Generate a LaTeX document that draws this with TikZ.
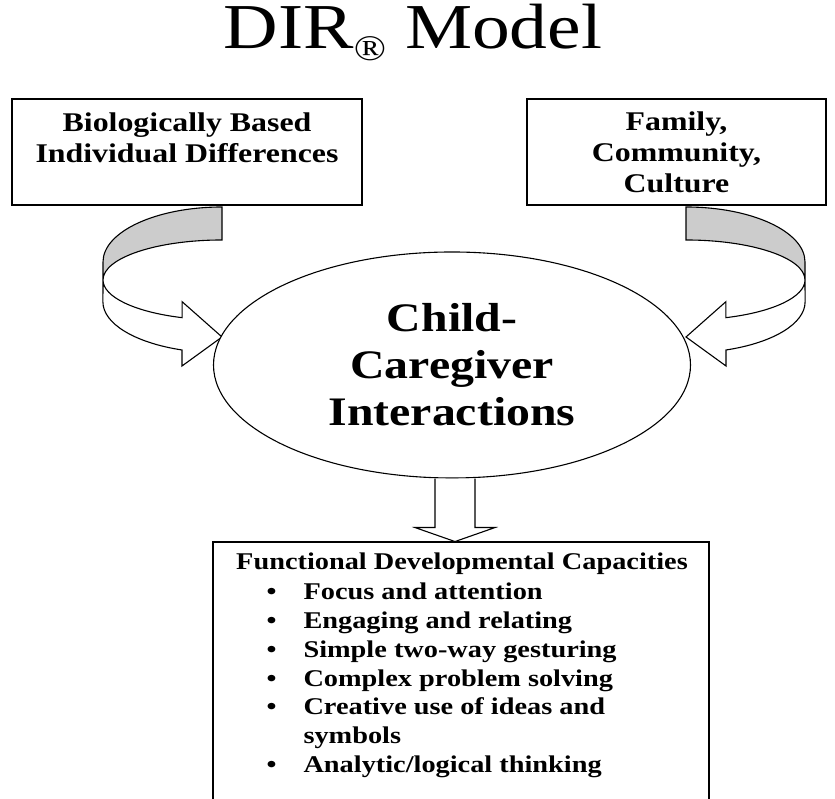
\documentclass[tikz,border=0pt]{standalone}
\usepackage{fontspec}
\setmainfont{Liberation Serif}[FakeStretch=1.18]
\usetikzlibrary{shapes.geometric,positioning}
\begin{document}
\begin{tikzpicture}[x=1pt,y=1pt,line width=1.1pt,
		frame/.style={draw,fill=white,inner sep=0pt},
		boxtext/.style={font=\bfseries\fontsize{27}{31}\selectfont,align=center,inner sep=0pt},
		listtext/.style={font=\bfseries\fontsize{24}{28.7}\selectfont,inner sep=0pt},
		band/.style={draw,fill=gray!40},
		face/.style={draw,fill=white}]
	\useasboundingbox (0,0) rectangle (835,799);
	\node (title) at (413,750) [anchor=base,inner sep=0pt] {\fontsize{64}{64}\selectfont DIR\raisebox{-12pt}{\fontsize{36}{36}\selectfont\textregistered} Model};
	\node (bio) at (187,647) [frame,minimum width=350pt,minimum height=106pt] {};
	\node (biotext) [boxtext,below=14pt of bio.north] {Biologically Based\\Individual Differences};
	\node (fam) at (676.5,647) [frame,minimum width=299pt,minimum height=106pt] {};
	\node (famtext) [boxtext,below=13pt of fam.north] {Family,\\Community,\\Culture};
	\draw[band] (222,592) arc [start angle=90, end angle=180, x radius=119pt, y radius=55pt] -- (103,519) arc [start angle=180, end angle=90, x radius=119pt, y radius=40pt] -- cycle;
	\draw[face] (103,519) arc [start angle=180, end angle=250.4, x radius=119pt, y radius=40pt] -- ++(0,16) -- (222,462) -- (182,433) -- (182,449) arc [start angle=250.4, end angle=180, x radius=119pt, y radius=51pt] -- cycle;
	\begin{scope}[shift={(908,0)},xscale=-1]
		\draw[band] (222,592) arc [start angle=90, end angle=180, x radius=119pt, y radius=55pt] -- (103,519) arc [start angle=180, end angle=90, x radius=119pt, y radius=40pt] -- cycle;
		\draw[face] (103,519) arc [start angle=180, end angle=250.4, x radius=119pt, y radius=40pt] -- ++(0,16) -- (222,462) -- (182,433) -- (182,449) arc [start angle=250.4, end angle=180, x radius=119pt, y radius=51pt] -- cycle;
	\end{scope}
	\node (cc) at (452,434) [ellipse,draw,fill=white,minimum width=477pt,minimum height=226pt,inner sep=0pt,align=center,font=\bfseries\fontsize{40.5}{47}\selectfont] {Child-\\Caregiver\\Interactions};
	\node (caps) at (461,126) [frame,minimum width=496pt,minimum height=262pt] {};
	\draw[face] ([xshift=-17pt]cc.south) -- ++(0,-49) -- ++(-20,0) -- ++(40,-14) -- ++(40,14) -- ++(-20,0) -- ++(0,49);
	\node (capshead) at (462,229) [listtext,anchor=base] {Functional Developmental Capacities};
	\node (capslist) at (266,199) [listtext,anchor=base west] {\begin{tabular}[t]{@{}p{37pt}@{}l@{}}
		\textbullet & Focus and attention\\
		\textbullet & Engaging and relating\\
		\textbullet & Simple two-way gesturing\\
		\textbullet & Complex problem solving\\
		\textbullet & Creative use of ideas and\\
		& symbols\\
		\textbullet & Analytic/logical thinking
	\end{tabular}};
\end{tikzpicture}
\end{document}
